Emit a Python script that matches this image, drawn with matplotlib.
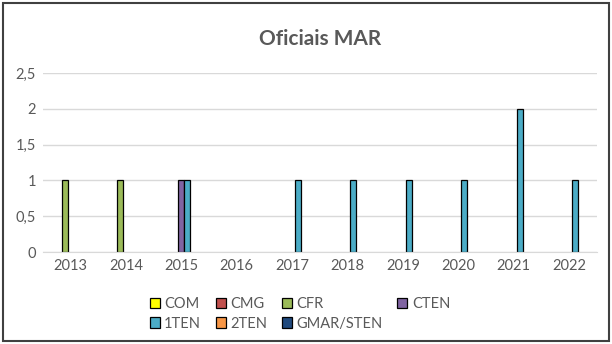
import matplotlib.pyplot as plt
import numpy as np
from matplotlib.patches import Rectangle
from matplotlib.ticker import FuncFormatter

plt.rcParams['font.family'] = ['Lato', 'DejaVu Sans']

years = ['2013', '2014', '2015', '2016', '2017', '2018', '2019', '2020', '2021', '2022']
series = ['COM', 'CMG', 'CFR', 'CTEN', '1TEN', '2TEN', 'GMAR/STEN']
colors = ['#FFFF00', '#C0504D', '#9BBB59', '#8064A2', '#4BACC6', '#F79646', '#1F497D']

com = [0, 0, 0, 0, 0, 0, 0, 0, 0, 0]
cmg = [0, 0, 0, 0, 0, 0, 0, 0, 0, 0]
cfr = [1, 1, 0, 0, 0, 0, 0, 0, 0, 0]
cten = [0, 0, 1, 0, 0, 0, 0, 0, 0, 0]
ten1 = [0, 0, 1, 0, 1, 1, 1, 1, 2, 1]
ten2 = [0, 0, 0, 0, 0, 0, 0, 0, 0, 0]
gmar = [0, 0, 0, 0, 0, 0, 0, 0, 0, 0]
values = [com, cmg, cfr, cten, ten1, ten2, gmar]

fig = plt.figure(figsize=(6.12, 3.44), dpi=100)
ax = fig.add_axes([0.070, 0.267, 0.905, 0.521])

x = np.arange(len(years))
w = 0.108
handles = []
for i, (name, vals, c) in enumerate(zip(series, values, colors)):
    vals = np.array(vals)
    nz = vals > 0
    # zero bars are not drawn (Excel shows nothing for them)
    ax.bar(x[nz] + (i - 3) * w, vals[nz], width=w, color=c, edgecolor='black',
           linewidth=0.9)
    handles.append(Rectangle((0, 0), 1, 1, facecolor=c, edgecolor='black', linewidth=0.9))

ax.set_xlim(-0.5, len(years) - 0.5)
ax.set_ylim(0, 2.5)
ax.set_yticks([0, 0.5, 1, 1.5, 2, 2.5])
ax.yaxis.set_major_formatter(FuncFormatter(lambda v, p: ('%g' % v).replace('.', ',')))
ax.set_xticks(x)
ax.set_xticklabels(years)
ax.grid(axis='y', color='#D9D9D9', linewidth=1)
ax.set_axisbelow(True)
for s in ['top', 'right', 'left']:
    ax.spines[s].set_visible(False)
ax.spines['bottom'].set_color('#D9D9D9')
ax.tick_params(axis='both', length=0, labelsize=10.5, labelcolor='#595959', pad=5)

ax.set_title('Oficiais MAR', fontsize=15, fontweight='bold', color='#595959', pad=20)

order = [0, 4, 1, 5, 2, 6, 3]
leg = fig.legend([handles[k] for k in order], [series[k] for k in order],
                 ncol=4, loc='center', bbox_to_anchor=(0.49, 0.088), frameon=False,
                 fontsize=10.5, handlelength=0.7, handleheight=0.7, handletextpad=0.3,
                 columnspacing=1.0, labelspacing=0.4)
for t in leg.get_texts():
    t.set_color('#595959')

fig.patches.append(Rectangle((0.005, 0.01), 0.99, 0.98, transform=fig.transFigure,
                             fill=False, edgecolor='#404040', linewidth=1.5))

fig.savefig('out.png', dpi=100)
